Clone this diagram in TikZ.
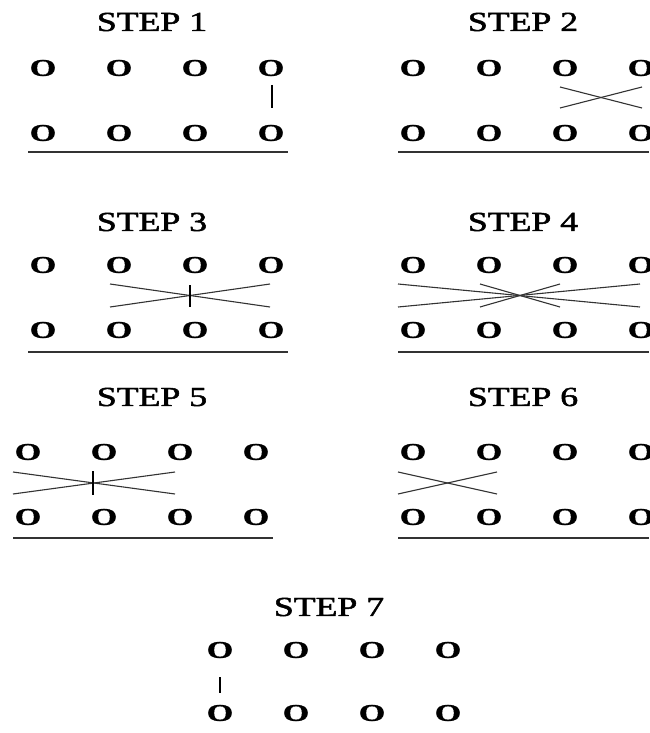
\documentclass[tikz,border=0pt]{standalone}
\usepackage{fontspec}
\usepackage{graphicx}
\setmainfont{Liberation Serif}
\newfontfamily\titlefont[FakeBold=1.6]{Liberation Serif}
\newfontfamily\letterfont[FakeBold=1.2]{Liberation Serif Bold}
\tikzset{
  steptitle/.style={inner sep=0pt, font=\titlefont\fontsize{27.5}{30}\selectfont},
  letterO/.style={inner sep=0pt, font=\letterfont\fontsize{24}{26}\selectfont},
  baseline rule/.style={draw=black!80, line width=1.6pt},
  tie/.style={draw=black, line width=1.8pt},
  crossline/.style={draw=black!80, line width=1.1pt},
}
\newcommand{\wideO}{\scalebox{1.42}[1]{O}}
\newcommand{\steplabel}[1]{\scalebox{1.3}[1]{#1}}
\newcommand{\rowpanel}[4]{% name, x0, ytop, ybot
  \foreach \i in {1,...,4} {
    \node[letterO] (#1t\i) at ({#2+(\i-1)*76},#3) {\wideO};
    \node[letterO] (#1b\i) at ({#2+(\i-1)*76},#4) {\wideO};
  }
}
\begin{document}
\begin{tikzpicture}[x=1pt,y=-1pt]
\useasboundingbox (0,0) rectangle (649,733);
% STEP 1
\node[steptitle] (title1) at (152,22) {\steplabel{STEP 1}};
\rowpanel{a}{43}{68}{133}
\coordinate (a1) at (272,85); \coordinate (a2) at (272,108);
\draw[tie] (a1) -- (a2);
\coordinate (ra) at (28,152); \coordinate (rb) at (288,152);
\draw[baseline rule] (ra) -- (rb);
% STEP 2
\node[steptitle] (title2) at (523,22) {\steplabel{STEP 2}};
\rowpanel{b}{413}{68}{133}
\coordinate (b1) at (560,87); \coordinate (b2) at (642,108);
\coordinate (b3) at (560,108); \coordinate (b4) at (642,87);
\draw[crossline] (b1) -- (b2); \draw[crossline] (b3) -- (b4);
\coordinate (rc) at (398,152); \coordinate (rd) at (649,152);
\draw[baseline rule] (rc) -- (rd);
% STEP 3
\node[steptitle] (title3) at (152,222) {\steplabel{STEP 3}};
\rowpanel{c}{43}{265}{330}
\coordinate (c1) at (110,284); \coordinate (c2) at (270,307);
\coordinate (c3) at (110,307); \coordinate (c4) at (270,284);
\coordinate (c5) at (190,285); \coordinate (c6) at (190,307);
\draw[crossline] (c1) -- (c2); \draw[crossline] (c3) -- (c4);
\draw[tie] (c5) -- (c6);
\coordinate (re) at (28,352); \coordinate (rf) at (288,352);
\draw[baseline rule] (re) -- (rf);
% STEP 4
\node[steptitle] (title4) at (523,222) {\steplabel{STEP 4}};
\rowpanel{d}{413}{265}{330}
\coordinate (d1) at (398,284); \coordinate (d2) at (640,307);
\coordinate (d3) at (398,307); \coordinate (d4) at (640,284);
\coordinate (d5) at (480,284); \coordinate (d6) at (560,307);
\coordinate (d7) at (480,307); \coordinate (d8) at (560,284);
\draw[crossline] (d1) -- (d2); \draw[crossline] (d3) -- (d4);
\draw[crossline] (d5) -- (d6); \draw[crossline] (d7) -- (d8);
\coordinate (rg) at (398,352); \coordinate (rh) at (649,352);
\draw[baseline rule] (rg) -- (rh);
% STEP 5
\node[steptitle] (title5) at (152,397) {\steplabel{STEP 5}};
\rowpanel{e}{28}{452}{517}
\coordinate (e1) at (13,472); \coordinate (e2) at (175,494);
\coordinate (e3) at (13,494); \coordinate (e4) at (175,472);
\coordinate (e5) at (93,471); \coordinate (e6) at (93,495);
\draw[crossline] (e1) -- (e2); \draw[crossline] (e3) -- (e4);
\draw[tie] (e5) -- (e6);
\coordinate (ri) at (13,538); \coordinate (rj) at (273,538);
\draw[baseline rule] (ri) -- (rj);
% STEP 6
\node[steptitle] (title6) at (523,397) {\steplabel{STEP 6}};
\rowpanel{f}{413}{452}{517}
\coordinate (f1) at (398,472); \coordinate (f2) at (497,494);
\coordinate (f3) at (398,494); \coordinate (f4) at (497,472);
\draw[crossline] (f1) -- (f2); \draw[crossline] (f3) -- (f4);
\coordinate (rk) at (398,538); \coordinate (rl) at (649,538);
\draw[baseline rule] (rk) -- (rl);
% STEP 7
\node[steptitle] (title7) at (329,607) {\steplabel{STEP 7}};
\rowpanel{g}{220}{650}{713}
\coordinate (g1) at (220,677); \coordinate (g2) at (220,693);
\draw[tie] (g1) -- (g2);
\end{tikzpicture}
\end{document}
